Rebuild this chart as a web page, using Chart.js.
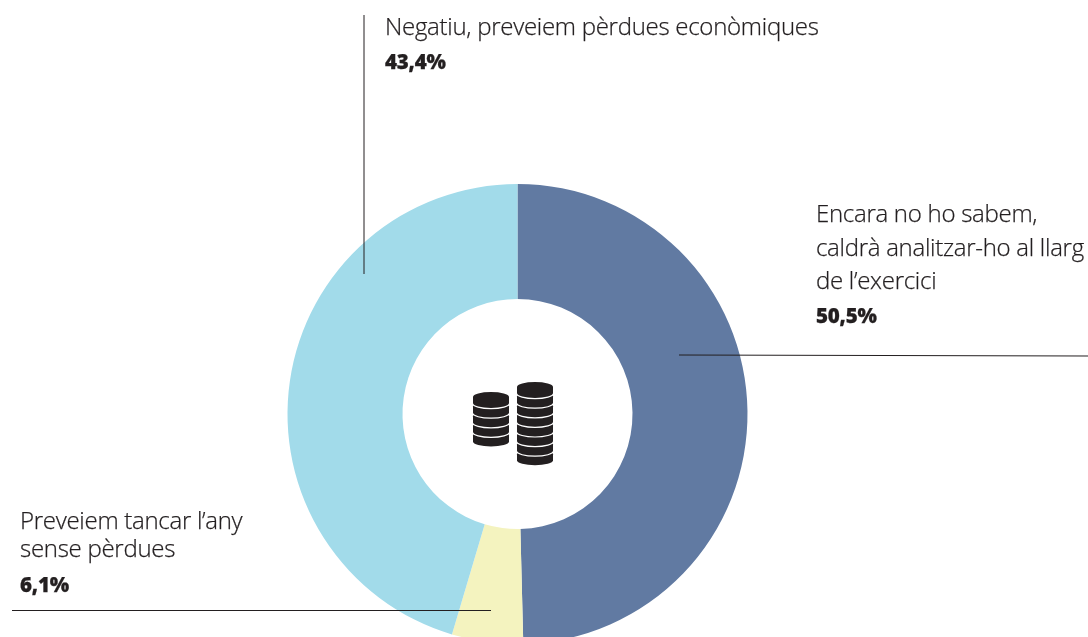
<!DOCTYPE html>
<html lang="ca">
<head>
<meta charset="utf-8">
<title>Previsió de pèrdues econòmiques</title>
<script src="https://cdn.jsdelivr.net/npm/chart.js@4"></script>
<style>
    html, body { margin: 0; padding: 0; background: #fff; }
    #page { position: relative; width: 1088px; height: 637px; overflow: hidden; }
    canvas { position: absolute; left: 0; top: 0; }
    .label {
        position: absolute;
        font-family: "Open Sans", sans-serif;
        font-weight: 300;
        font-size: 24px;
        letter-spacing: -0.28px;
        -webkit-text-stroke: 0.25px #231f20;
        color: #231f20;
        white-space: nowrap;
    }
    .label b { font-weight: 800; font-size: 20.5px; letter-spacing: -0.2px; }
</style>
</head>
<body>
<div id="page">
    <canvas id="donutChart" width="1088" height="828"></canvas>
    <div class="label" style="left:385px;top:9px;line-height:34px">Negatiu, preveiem pèrdues econòmiques<br><b>43,4%</b></div>
    <div class="label" style="left:816px;top:196px;line-height:33.6px">Encara no ho sabem,<br>caldrà analitzar-ho al llarg<br>de l’exercici<br><b>50,5%</b></div>
    <div class="label" style="left:20px;top:506px;line-height:28px">Preveiem tancar l’any<br>sense pèrdues<br><b style="line-height:44px">6,1%</b></div>
</div>
<script>
    // Slices in drawing order, clockwise from the top.
    // The printed percentages don't match the drawn arcs, so sizes are measured off the picture.
    const categories = ["Encara no ho sabem", "Preveiem tancar l'any sense pèrdues", "Negatiu, preveiem pèrdues econòmiques"];
    const printedValues = [50.5, 6.1, 43.4];
    const drawnValues = [49.6, 5.0, 45.4];
    const sliceColors = ["#617aa2", "#f4f3bf", "#a2dbea"];

    // Leader lines: [x1, y1, x2, y2]
    const leaderLines = [
        [364, 15, 364, 274],
        [679, 355, 1088, 356],
        [12, 610.5, 491, 610.5]
    ];

    // Coin stacks in the hole: [offset from centre x, offset from centre y of first coin, coins]
    const coinStacks = [
        [-26.5, -17, 5],
        [17.5, -27, 8]
    ];

    function drawCoin(ctx, x, y) {
        const rx = 18, ry = 5, h = 6;
        ctx.beginPath();
        ctx.ellipse(x, y + h, rx, ry, 0, 0, Math.PI);
        ctx.lineTo(x - rx, y);
        ctx.ellipse(x, y, rx, ry, 0, Math.PI, 2 * Math.PI);
        ctx.closePath();
        ctx.fillStyle = "#231f20";
        ctx.strokeStyle = "#fff";
        ctx.lineWidth = 2.4;
        ctx.stroke();
        ctx.fill();
    }

    const overlayPlugin = {
        id: "overlay",
        afterDraw(chart) {
            const ctx = chart.ctx;
            const arc = chart.getDatasetMeta(0).data[0];
            ctx.save();
            coinStacks.forEach(([dx, dy, coins]) => {
                for (let i = coins - 1; i >= 0; i--) {
                    drawCoin(ctx, arc.x + dx, arc.y + dy + i * 9.6);
                }
            });
            ctx.strokeStyle = "#231f20";
            ctx.lineWidth = 1;
            leaderLines.forEach(([x1, y1, x2, y2]) => {
                ctx.beginPath();
                ctx.moveTo(x1, y1);
                ctx.lineTo(x2, y2);
                ctx.stroke();
            });
            ctx.restore();
        }
    };

    new Chart(document.getElementById("donutChart").getContext("2d"), {
        type: "doughnut",
        data: {
            labels: categories,
            datasets: [{
                data: drawnValues,
                backgroundColor: sliceColors,
                borderWidth: 0
            }]
        },
        options: {
            responsive: false,
            animation: false,
            cutout: "50%",
            layout: { padding: { left: 0, right: 53, top: 184, bottom: 184 } },
            plugins: {
                legend: { display: false },
                tooltip: { enabled: false }
            }
        },
        plugins: [overlayPlugin]
    });
</script>
</body>
</html>
